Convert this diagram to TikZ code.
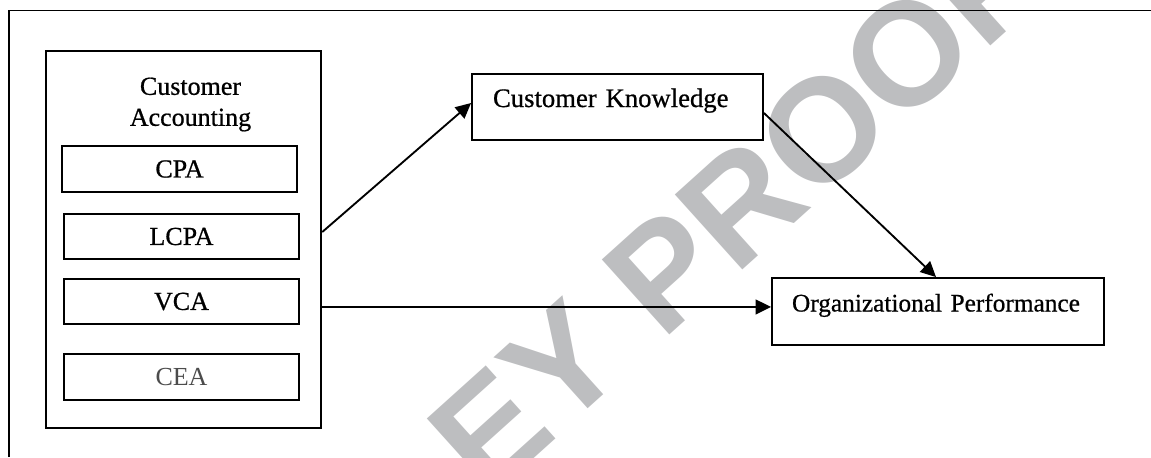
\documentclass[tikz,border=0pt]{standalone}
\usepackage{fontspec}
\setmainfont{Liberation Serif}[FakeBold=0.6]
\newfontfamily\heavyserif{Liberation Serif}[FakeBold=0.7]
\newfontfamily\lightserif{Liberation Serif}
\newfontfamily\wmfont{Liberation Sans}
\usetikzlibrary{arrows.meta,calc}
\definecolor{wm}{RGB}{189,190,192}
\begin{document}
\begin{tikzpicture}[x=0.75pt,y=-0.75pt,
  every node/.style={inner sep=0pt},
  subbox/.style={draw, line width=1.4pt, fill=white, minimum width=176.25pt,
    minimum height=34.5pt, font=\heavyserif\fontsize{19.5pt}{23pt}\selectfont},
  bigbox/.style={draw, line width=1.4pt, fill=white, align=left,
    text height=12pt, text depth=12pt},
  arr/.style={line width=1.4pt, -{Triangle[length=11.5pt,width=11pt]}},
  frame/.style={line width=1.1pt}
]
\useasboundingbox (0,0) rectangle (1151,457);
% watermark
\begin{scope}
\clip (0,0) rectangle (1151,457);
\node[rotate=42, text=wm, font=\wmfont\bfseries\fontsize{110pt}{110pt}\selectfont] (wmk) at (735,209) {EY PROOF};
\end{scope}
% outer frame
\draw[frame] (9,457) -- (9,10.5) -- (1151,10.5);
% customer accounting group
\node[draw, line width=1.8pt, fill=white, minimum width=206.25pt, minimum height=282.75pt] (ca) at (183.5,239.5) {};
\node[align=center, font=\heavyserif\fontsize{19.5pt}{23.25pt}\selectfont] (cat) at (190.5,104.5) {Customer\\Accounting};
\node[subbox] (cpa) at (179.5,169) {CPA};
\node[subbox, minimum height=33.75pt] (lcpa) at (181.5,236.5) {LCPA};
\node[subbox, minimum height=33.75pt] (vca) at (181.5,301.5) {VCA};
\node[subbox, text=black!70, font=\lightserif\fontsize{19.5pt}{23pt}\selectfont] (cea) at (181.5,377) {CEA};
% right boxes
\node[bigbox, minimum width=218.25pt, minimum height=49.5pt, text width=186.75pt, inner xsep=15.75pt,
  font=\heavyserif\fontsize{20pt}{24pt}\selectfont] (ck) at (617.5,107) {Customer Knowledge};
\node[bigbox, minimum width=249pt, minimum height=50.25pt, text width=219pt, inner xsep=15pt,
  font=\heavyserif\fontsize{19pt}{23pt}\selectfont] (op) at (938,311.5) {Organizational Performance};
% connectors
\coordinate (opin) at ([yshift=3.4pt]op.west);
\draw[arr] ([yshift=5.6pt]ca.east) -- ([yshift=3pt]ck.west);
\draw[arr] (ca.east |- opin) -- (opin);
\draw[arr] ([yshift=-4.5pt]ck.east) -- ([xshift=-1.5pt]op.north);
\end{tikzpicture}
\end{document}
